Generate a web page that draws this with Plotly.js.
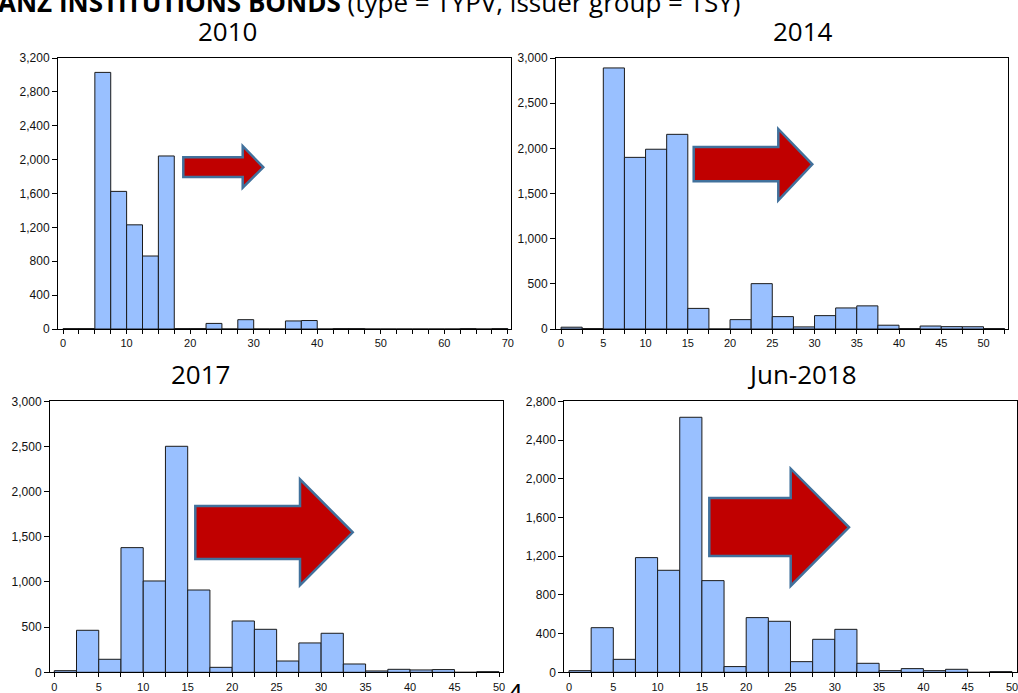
<!DOCTYPE html>
<html>
<head>
<meta charset="utf-8">
<script src="https://cdn.plot.ly/plotly-3.0.1.min.js"></script>
<style>html,body{margin:0;padding:0;background:#fff;}#chart{width:1018px;height:693px;}</style>
</head>
<body>
<div id="chart"></div>
<script>
// ---- Data (bin start, count) ----
const binStarts2010 = [0,2.5,5,7.5,10,12.5,15,17.5,20,22.5,25,27.5,30,32.5,35,37.5,40,42.5,45,47.5,50,52.5,55,57.5,60,62.5,65,67.5];
const counts2010    = [5,5,3030,1625,1230,862,2043,5,5,66,0,110,0,0,95,100,0,5,5,0,0,0,0,0,0,5,0,5];

const binStarts2014 = [0,2.5,5,7.5,10,12.5,15,17.5,20,22.5,25,27.5,30,32.5,35,37.5,40,42.5,45,47.5,50];
const counts2014    = [20,5,2890,1900,1990,2155,228,0,104,502,137,23,148,233,256,42,5,33,26,25,5];

const binStarts2017 = [0,2.5,5,7.5,10,12.5,15,17.5,20,22.5,25,27.5,30,32.5,35,37.5,40,42.5,45,47.5];
const counts2017    = [18,465,144,1380,1011,2502,911,55,568,476,125,325,432,92,15,33,26,30,0,7];

const binStarts2018 = [0,2.5,5,7.5,10,12.5,15,17.5,20,22.5,25,27.5,30,32.5,35,37.5,40,42.5,45,47.5];
const counts2018    = [17,461,134,1185,1054,2635,947,59,565,527,110,341,444,93,17,38,17,31,0,7];

const panelTitles = ["2010","2014","2017","Jun-2018"];
const headerText = "<b>ANZ INSTITUTIONS BONDS</b> (type = TYPV, issuer group = TSY)";
const pageNumber = "4";

// ---- Layout helpers ----
const W = 1018, H = 693;
const px = v => v / W;
const py = v => 1 - v / H;

const barColor = "#99c0ff";
const yTickFont = {family: "Arial, Liberation Sans, sans-serif", size: 12, color: "#111"};
const xTickFont = {family: "Arial, Liberation Sans, sans-serif", size: 11, color: "#111"};

function barTrace(x, y, xa, ya) {
  return {
    type: "bar", x: x, y: y, width: 2.5, offset: 0,
    xaxis: xa, yaxis: ya,
    marker: {color: barColor, line: {color: "#1a1a1a", width: 1}},
    hoverinfo: "skip"
  };
}

const data = [
  barTrace(binStarts2010, counts2010, "x", "y"),
  barTrace(binStarts2014, counts2014, "x2", "y2"),
  barTrace(binStarts2017, counts2017, "x3", "y3"),
  barTrace(binStarts2018, counts2018, "x4", "y4")
];

function xAxis(domain, range, dtick, anchor) {
  return {
    domain: domain, range: range, anchor: anchor,
    dtick: dtick, tick0: 0, ticks: "outside", ticklen: 4, tickwidth: 1, tickcolor: "#000",
    minor: {dtick: 2.5, tick0: 0, ticks: "outside", ticklen: 4, tickwidth: 1, tickcolor: "#000", showgrid: false},
    showline: true, linecolor: "#000", linewidth: 1, mirror: true,
    showgrid: false, zeroline: false, tickfont: xTickFont, fixedrange: true,
    ticklabeloverflow: "allow"
  };
}
function yAxis(domain, range, dtick, anchor) {
  return {
    domain: domain, range: range, anchor: anchor,
    dtick: dtick, tick0: 0, ticks: "outside", ticklen: 5, tickwidth: 1, tickcolor: "#000",
    tickformat: ",d",
    showline: true, linecolor: "#000", linewidth: 1, mirror: true,
    showgrid: false, zeroline: false, tickfont: yTickFont, fixedrange: true,
    ticklabeloverflow: "allow"
  };
}

const topY = [py(329), py(58)];
const botY = [py(672.3), py(401.3)];

// arrow path from pixel geometry: body left, body top, body bottom, head base x, head top, head bottom, tip x, tip y
function arrow(bl, bt, bb, hx, ht, hb, tx, ty) {
  const p = [[bl,bt],[hx,bt],[hx,ht],[tx,ty],[hx,hb],[hx,bb],[bl,bb]];
  const d = "M" + p.map(q => px(q[0]).toFixed(5) + "," + py(q[1]).toFixed(5)).join(" L") + " Z";
  return {type: "path", xref: "paper", yref: "paper", path: d,
          fillcolor: "#c00000", line: {color: "#41719c", width: 2.5}, layer: "above"};
}

const shapes = [
  arrow(183.3, 157.3, 177, 242.7, 146, 187.7, 263.3, 167.3),
  arrow(693.7, 147, 181.3, 778.3, 129, 200.3, 812.3, 164.3),
  arrow(195.3, 506, 559, 300, 479.3, 585.3, 352.7, 532.3),
  arrow(709.3, 498, 556, 790.7, 468.7, 586, 849, 527.3)
];

const titleFont = {family: "Open Sans, Noto Sans, sans-serif", size: 26, color: "#000"};
function title(text, cx, cy) {
  return {text: text, xref: "paper", yref: "paper", x: px(cx), y: py(cy),
          xanchor: "center", yanchor: "middle", showarrow: false, font: titleFont};
}

const annotations = [
  title(panelTitles[0], 227, 31),
  title(panelTitles[1], 803, 31),
  title(panelTitles[2], 200, 374),
  title(panelTitles[3], 802, 374),
  {text: headerText, xref: "paper", yref: "paper", x: px(743), y: py(21.5),
   xanchor: "right", yanchor: "bottom", showarrow: false, font: titleFont},
  {text: pageNumber, xref: "paper", yref: "paper", x: px(515), y: py(672),
   xanchor: "center", yanchor: "top", showarrow: false,
   font: {family: "Open Sans, Noto Sans, sans-serif", size: 28, color: "#000"}}
];

const layout = {
  width: W, height: H,
  margin: {l: 0, r: 0, t: 0, b: 0, pad: 0},
  paper_bgcolor: "#fff", plot_bgcolor: "#fff",
  showlegend: false, bargap: 0,
  xaxis:  xAxis([px(58), px(511)], [-0.8, 70.5], 10, "y"),
  yaxis:  yAxis(topY, [0, 3200], 400, "x"),
  xaxis2: xAxis([px(556), px(1008)], [-0.6, 52.9], 5, "y2"),
  yaxis2: yAxis(topY, [0, 3000], 500, "x2"),
  xaxis3: xAxis([px(50), px(503)], [-0.48, 50.45], 5, "y3"),
  yaxis3: yAxis(botY, [0, 3000], 500, "x3"),
  xaxis4: xAxis([px(564.3), px(1016.7)], [-0.53, 50.53], 5, "y4"),
  yaxis4: yAxis(botY, [0, 2800], 400, "x4"),
  shapes: shapes,
  annotations: annotations
};

Plotly.newPlot("chart", data, layout, {displayModeBar: false, staticPlot: true});
</script>
</body>
</html>
